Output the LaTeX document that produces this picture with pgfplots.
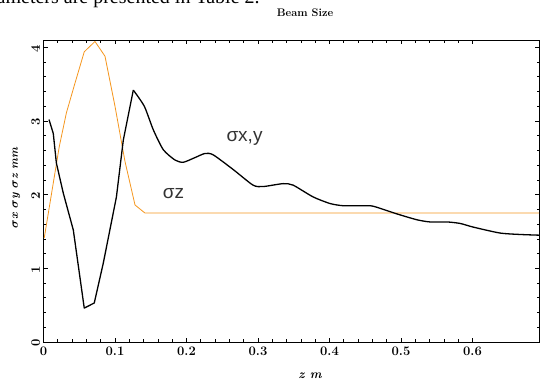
\documentclass[border=0pt]{standalone}
\usepackage{pgfplots}
\pgfplotsset{compat=1.18}
\usepackage{fontspec}
\newfontfamily\serifT{Liberation Serif}
\newfontfamily\sansL{Liberation Sans}
\definecolor{sigorange}{RGB}{245,150,30}
\definecolor{labgray}{RGB}{51,51,51}
\begin{document}
\begin{tikzpicture}
\begin{axis}[
  scale only axis,
  width=495.5bp, height=302bp,
  xmin=0, xmax=0.693, ymin=0, ymax=4.1,
  xtick={0,0.1,0.2,0.3,0.4,0.5,0.6},
  xticklabels={0,0.1,0.2,0.3,0.4,0.5,0.6},
  ytick={0,1,2,3,4},
  minor x tick num=4, minor y tick num=4,
  tick align=inside,
  major tick length=4bp, minor tick length=2.5bp,
  axis line style={line width=0.9bp},
  every tick/.style={line width=0.7bp, black},
  /pgf/number format/assume math mode=true,
  xticklabel style={font=\bfseries\fontsize{13bp}{15bp}\selectfont, yshift=-1.5bp},
  yticklabel style={font=\bfseries\fontsize{13bp}{15bp}\selectfont, rotate=90, anchor=south, xshift=-1bp},
  clip=true,
]
\addplot[sigorange, line width=0.8bp] coordinates {
(0.001,1.41) (0.022,2.65) (0.032,3.11) (0.043,3.48) (0.057,3.94)
(0.072,4.08) (0.086,3.88) (0.100,3.20) (0.114,2.45) (0.128,1.86)
(0.142,1.75) (0.3,1.75) (0.693,1.75)
};
\addplot[black, line width=1.3bp, line join=round] coordinates {
(0.0077,3.02) (0.0137,2.83) (0.018,2.43) (0.0277,2.02) (0.0417,1.52)
(0.057,0.46) (0.071,0.53) (0.0836,1.07) (0.102,1.97) (0.1116,2.74)
(0.1256,3.42)
};
\addplot[black, line width=1.3bp, line join=round, smooth, tension=0.4] coordinates {
(0.1256,3.42) (0.141,3.20) (0.1536,2.88) (0.1676,2.61) (0.184,2.47)
(0.1955,2.44) (0.211,2.50) (0.226,2.56) (0.2375,2.54) (0.2655,2.34)
(0.293,2.13) (0.307,2.11) (0.335,2.15) (0.349,2.13) (0.377,1.97)
(0.4007,1.88) (0.419,1.85) (0.443,1.85) (0.457,1.85) (0.466,1.83)
(0.494,1.74) (0.522,1.66) (0.5405,1.63) (0.564,1.63) (0.5825,1.61)
(0.601,1.56) (0.638,1.48) (0.666,1.46) (0.694,1.45)
};
\end{axis}
\pgfresetboundingbox
\path[use as bounding box] (-43.5bp,-40bp) rectangle (496.5bp,342bp);
\node[anchor=base west, font=\serifT\fontsize{20bp}{24bp}\selectfont, inner sep=0] at (-47bp,338.5bp) {ameters are presented in Table 2.};
\node[font=\bfseries\fontsize{11bp}{13bp}\selectfont] at (261.5bp,329bp) {Beam Size};
\node[font=\bfseries\itshape\fontsize{12.5bp}{14bp}\selectfont] at (266.5bp,-34bp) {z m};
\node[font=\bfseries\itshape\fontsize{11.5bp}{13bp}\selectfont\boldmath, rotate=90] at (-27bp,154bp) {$\sigma$x $\sigma$y $\sigma$z mm};
\node[font=\sansL\fontsize{19bp}{22bp}\selectfont, text=labgray] at (201bp,204bp) {σx,y};
\node[font=\sansL\fontsize{19bp}{22bp}\selectfont, text=labgray] at (130bp,148.5bp) {σz};
\end{tikzpicture}
\end{document}
